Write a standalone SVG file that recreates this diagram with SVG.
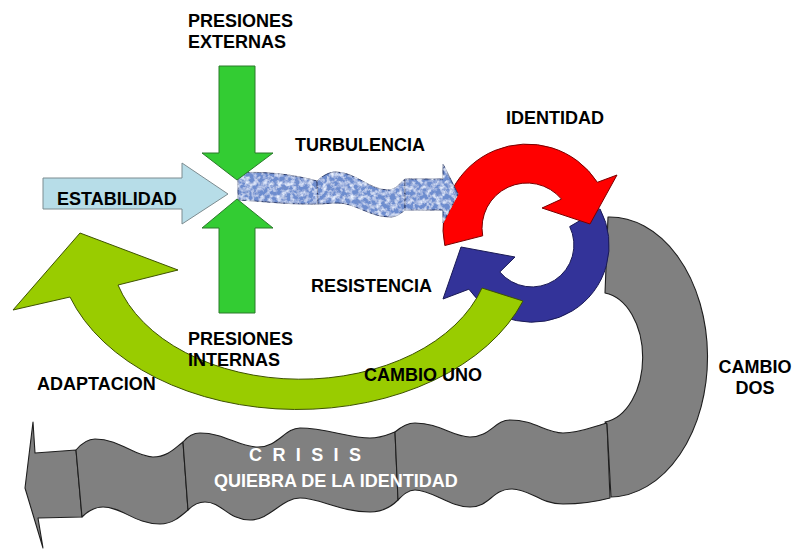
<svg xmlns="http://www.w3.org/2000/svg" width="795" height="550" viewBox="0 0 795 550">
<style>
.lbl{font-family:"Liberation Sans",Arial,sans-serif;font-weight:bold;font-size:18px;fill:#000}
.wlbl{font-family:"Liberation Sans",Arial,sans-serif;font-weight:bold;font-size:18px;fill:#fff}
.gray{fill:#808080;stroke:#1e1e1e;stroke-width:1.1;stroke-linejoin:round}
.grn{fill:#33CC33;stroke:#2a7a2a;stroke-width:1}
.turb{fill:#6d8dcf;stroke:#2a3a6a;stroke-width:1;filter:url(#tex)}
</style>
<defs>
<filter id="tex" x="-2%" y="-5%" width="104%" height="110%">
<feTurbulence type="fractalNoise" baseFrequency="0.22" numOctaves="3" seed="7" result="n"/>
<feColorMatrix in="n" type="matrix" values="0 0 0 0 0.82  0 0 0 0 0.88  0 0 0 0 1  2.4 0 0 0 -0.95" result="w"/>
<feComposite in="w" in2="SourceGraphic" operator="in" result="wc"/>
<feColorMatrix in="n" type="matrix" values="0 0 0 0 0.2  0 0 0 0 0.28  0 0 0 0 0.55  0 -2.4 0 0 0.95" result="d"/>
<feComposite in="d" in2="SourceGraphic" operator="in" result="dc"/>
<feMerge><feMergeNode in="SourceGraphic"/><feMergeNode in="wc"/><feMergeNode in="dc"/></feMerge>
</filter>
</defs>
<rect width="795" height="550" fill="#fff"/>
<g id="connectors">
<g id="crisis">
<path class="gray" d="M25,488 L33,422 L35,453 L76,450 L82,517 L38,518 L43,548 Z"/>
<path class="gray" d="M76,450 C82,443 88,439 95,439 C120,439 135,457 153,457 C168,457 176,447 183,442 L188,510 C180,517 172,524 160,524 C135,524 122,507 103,507 C94,507 87,512 82,517 Z"/>
<path class="gray" d="M183,442 C188,436 194,433 200,433 C225,433 238,447 258,447 C278,447 285,428 300,428 C325,428 350,438 370,438 C382,438 389,434 395,432 L398,500 C392,506 382,512 370,512 C340,512 320,498 300,498 C282,498 270,520 250,520 C228,520 222,502 205,502 C198,502 192,506 188,510 Z"/>
<path class="gray" d="M395,432 C402,426 408,423 415,423 C440,423 452,437 470,437 C490,437 495,420 510,420 C535,420 545,433 563,433 C580,433 595,426 607,423 L610,498 C595,502 580,504 563,504 C540,504 530,489 512,489 C492,489 490,507 470,507 C450,507 432,490 415,490 C408,490 403,495 398,500 Z"/>
<path id="cambio-dos" class="gray" d="M608,217 A98,140 0 0,1 611,497 L607,424 L605,422 A43,65 0 0,0 605,293 Z"/>
</g>
<path id="resistencia-arrow" d="M600,208.9 A77,77 0 0,1 468.9,289.2 L443,299 L461,247 L515,257 L499.8,272 A42,42 0 0,0 569.7,226.6 Z" fill="#333399" stroke="#1a1a55" stroke-width="1"/>
<path id="identidad-arrow" d="M444.8,245.5 A84,84 0 0,1 597.4,182.3 L617,175 L590,224 L542,208 L561.5,199.1 A45,45 0 0,0 482.7,235.8 Z" fill="#FF0000" stroke="#7a0000" stroke-width="1"/>
<path id="cambio-uno" d="M523,301 A240,165 0 0,1 70,297 L13,310 L80,233 L178,270 L118,285 A190,130 0 0,0 482,288 Z" fill="#99CC00" stroke="#3d5200" stroke-width="1"/>
<g id="turbulencia-arrow">
<path class="turb" d="M238,173 C262,171 292,174 317,181 L318,204 C292,205 262,201 238,200 Z"/>
<path class="turb" d="M317,181 C322,176 329,172 336,172 C355,172 370,190 388,190 C396,190 400,183 405,179 L405,210 C400,214 396,217 390,217 C370,217 355,203 338,203 C330,203 323,204 318,204 Z"/>
<path class="turb" d="M405,179 L443,179 L443,164 L458,194 L443,223 L443,210 L405,210 Z"/>
</g>
<path id="estabilidad-arrow" d="M43,178 L182,178 L182,163 L228,194 L182,224 L182,209 L43,209 Z" fill="#B7DDE8" stroke="#7d8c90" stroke-width="1"/>
<path id="presiones-externas-arrow" class="grn" d="M219,66 L255,66 L255,153 L273,153 L237,180 L202,153 L219,153 Z"/>
<path id="presiones-internas-arrow" class="grn" d="M237,199 L273,228 L255,228 L255,313 L219,313 L219,228 L202,228 Z"/>
</g>
<g id="presiones-externas"><text class="lbl" x="188" y="27">PRESIONES</text><text class="lbl" x="188" y="48">EXTERNAS</text></g>
<g id="turbulencia"><text class="lbl" x="295" y="151">TURBULENCIA</text></g>
<g id="estabilidad"><text class="lbl" x="57" y="205">ESTABILIDAD</text></g>
<g id="identidad"><text class="lbl" x="506" y="124">IDENTIDAD</text></g>
<g id="resistencia"><text class="lbl" x="311" y="292">RESISTENCIA</text></g>
<g id="presiones-internas"><text class="lbl" x="188" y="345">PRESIONES</text><text class="lbl" x="188" y="366">INTERNAS</text></g>
<g id="adaptacion"><text class="lbl" x="37" y="390">ADAPTACION</text></g>
<g id="cambio-uno-label"><text class="lbl" x="364" y="381">CAMBIO UNO</text></g>
<g id="crisis-label"><text class="wlbl" x="249" y="461" letter-spacing="2.7">C R I S I S</text><text class="wlbl" x="214" y="487">QUIEBRA DE LA IDENTIDAD</text></g>
<g id="cambio-dos-label"><text class="lbl" x="755" y="373" text-anchor="middle">CAMBIO</text><text class="lbl" x="755" y="394" text-anchor="middle">DOS</text></g>
</svg>
